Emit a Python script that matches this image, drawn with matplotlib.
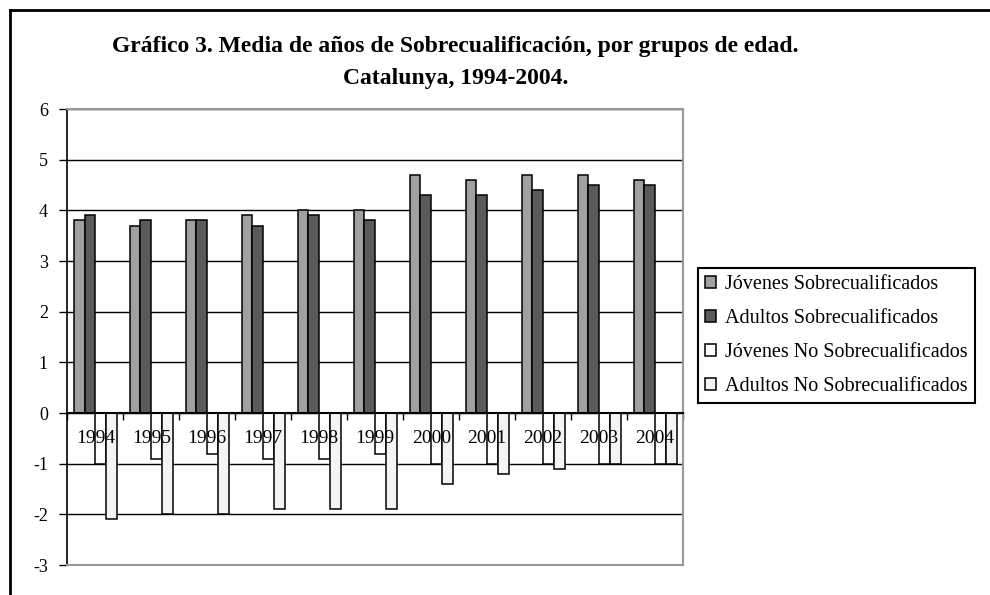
import numpy as np
import matplotlib
matplotlib.use("Agg")
import matplotlib.pyplot as plt
from matplotlib.lines import Line2D

plt.rcParams['font.family'] = ['Liberation Serif', 'DejaVu Serif']

years = ['1994', '1995', '1996', '1997', '1998', '1999', '2000', '2001', '2002', '2003', '2004']
jov_sobre = [3.8, 3.7, 3.8, 3.9, 4.0, 4.0, 4.7, 4.6, 4.7, 4.7, 4.6]
adu_sobre = [3.9, 3.8, 3.8, 3.7, 3.9, 3.8, 4.3, 4.3, 4.4, 4.5, 4.5]
jov_no = [-1.0, -0.9, -0.8, -0.9, -0.9, -0.8, -1.0, -1.0, -1.0, -1.0, -1.0]
adu_no = [-2.1, -2.0, -2.0, -1.9, -1.9, -1.9, -1.4, -1.2, -1.1, -1.0, -1.0]

labels = ['Jóvenes Sobrecualificados', 'Adultos Sobrecualificados',
          'Jóvenes No Sobrecualificados', 'Adultos No Sobrecualificados']
colors = ['#a0a0a0', '#5a5a5a', '#ffffff', '#f4f4f4']

fig = plt.figure(figsize=(9.9, 5.95), dpi=100)
ax = fig.add_axes([0.068, 0.0504, 0.622, 0.7664])

x = np.arange(len(years))
w = 0.193
series = [jov_sobre, adu_sobre, jov_no, adu_no]
for k, vals in enumerate(series):
    ax.bar(x + (k - 1.5) * w, vals, w, color=colors[k], edgecolor='black',
           linewidth=1.1, label=labels[k], zorder=2)

ax.set_xlim(-0.5, len(years) - 0.5)
ax.set_ylim(-3, 6)
ax.set_yticks(range(-3, 7))
ax.set_yticklabels([str(v) for v in range(-3, 7)], fontsize=13)
ax.yaxis.grid(True, color='black', linewidth=1.0)
ax.set_axisbelow(True)
ax.axhline(-3, color='#999999', linewidth=1.5, zorder=3, clip_on=False)
ax.axhline(6, color='#999999', linewidth=1.5, zorder=3, clip_on=False)

ax.spines['top'].set_visible(False)
ax.spines['right'].set_color('#999999')
ax.spines['right'].set_linewidth(1.5)
ax.spines['left'].set_linewidth(1.2)
ax.spines['bottom'].set_position(('data', 0))
ax.spines['bottom'].set_linewidth(1.5)
ax.spines['bottom'].set_zorder(4)

ax.tick_params(axis='y', direction='out', length=6, width=1.0, pad=8)
ax.set_xticks(np.arange(len(years) + 1) - 0.5)
ax.set_xticklabels([])
ax.tick_params(axis='x', which='major', direction='out', length=5, width=1.0)

# year labels sit just under the zero line, drawn on top of the bars
for i, yr in enumerate(years):
    ax.text(i, -0.5, yr, ha='center', va='center', fontsize=14, zorder=5)

fig.text(0.46, 0.922, 'Gráfico 3. Media de años de Sobrecualificación, por grupos de edad.',
         ha='center', va='center', fontsize=17, fontweight='bold')
fig.text(0.46, 0.868, 'Catalunya, 1994-2004.',
         ha='center', va='center', fontsize=17, fontweight='bold')

leg = fig.legend(loc='upper left', bbox_to_anchor=(0.705, 0.55), fontsize=14.5,
                 frameon=True, fancybox=False, edgecolor='black', framealpha=1,
                 handlelength=0.55, handleheight=0.55, handletextpad=0.45,
                 labelspacing=0.75, borderpad=0.35, borderaxespad=0)
leg.get_frame().set_linewidth(1.5)

fig.add_artist(Line2D([10 / 990, 1], [1 - 10 / 595, 1 - 10 / 595], color='black',
                      linewidth=2, transform=fig.transFigure))
fig.add_artist(Line2D([10 / 990, 10 / 990], [0, 1 - 10 / 595], color='black',
                      linewidth=2, transform=fig.transFigure))

fig.savefig('out.png', dpi=100)
